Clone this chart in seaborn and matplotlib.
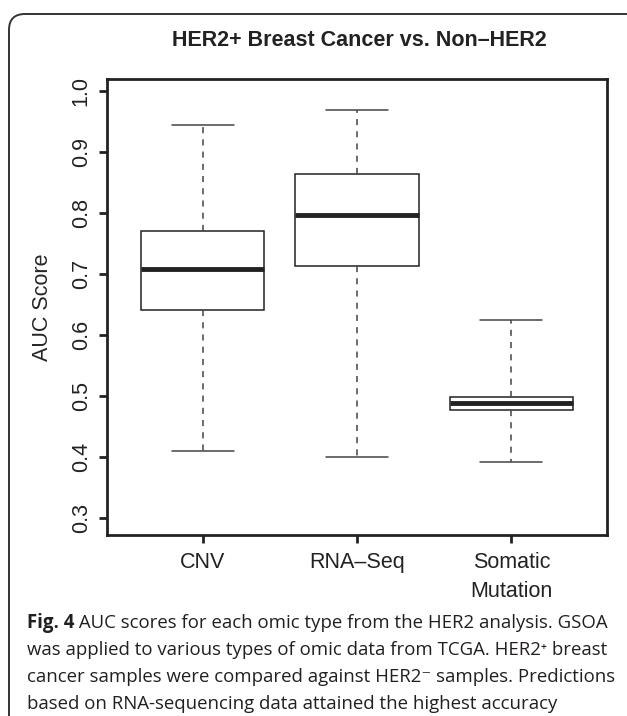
import matplotlib
matplotlib.use("Agg")
import matplotlib.pyplot as plt
import matplotlib.patches as mpatches
import pandas as pd
import seaborn as sns

# five-number summaries (min, Q1, median, Q3, max)
groups = ["CNV", "RNA-Seq", "Somatic Mutation"]
tick_labels = ["CNV", "RNA\u2013Seq", "Somatic\nMutation"]
cnv = [0.411, 0.641, 0.708, 0.771, 0.944]
rnaseq = [0.401, 0.713, 0.797, 0.864, 0.968]
somatic = [0.393, 0.478, 0.489, 0.499, 0.625]
yticks = [0.3, 0.4, 0.5, 0.6, 0.7, 0.8, 0.9, 1.0]

df = pd.DataFrame({
    "omic": [groups[0]] * len(cnv) + [groups[1]] * len(rnaseq) + [groups[2]] * len(somatic),
    "auc": cnv + rnaseq + somatic,
})

sns.set_style("white")
plt.rcParams["font.family"] = ["Liberation Sans", "DejaVu Sans"]
ink = "#222222"

fig = plt.figure(figsize=(6.27, 7.16), dpi=100)
ax = fig.add_axes([107 / 627, 1 - 535 / 716, 500 / 627, 456 / 716])

sns.boxplot(data=df, x="omic", y="auc", order=groups, ax=ax, whis=(0, 100),
            width=0.8, color="white", linecolor=ink, linewidth=1.1,
            medianprops=dict(linewidth=3.5, color=ink),
            whiskerprops=dict(linestyle=(0, (4, 4)), color="#444444"),
            capprops=dict(color="#444444"), showfliers=False)

ax.set_xlim(-0.62, 2.62)
ax.set_ylim(0.2727, 1.0195)
ax.set_yticks(yticks)
ax.set_yticklabels([f"{v:.1f}" for v in yticks], rotation=90, va="center", fontsize=15.5)
ax.set_xticks(range(len(groups)))
ax.set_xticklabels(tick_labels, fontsize=15.5, linespacing=1.5)
ax.set_xlabel("")
ax.set_ylabel("AUC Score", fontsize=15.5, labelpad=13)
ax.tick_params(axis="both", direction="out", length=6, width=2, color=ink,
               left=True, bottom=True, labelcolor=ink)
ax.tick_params(axis="y", pad=5)
ax.tick_params(axis="x", pad=6)
for s in ax.spines.values():
    s.set_visible(True)
    s.set_linewidth(2)
    s.set_color(ink)

fig.text(359 / 627, 1 - 40 / 716, "HER2+ Breast Cancer vs. Non\u2013HER2",
         ha="center", va="center", fontsize=15.5, fontweight="bold", color=ink)

# rounded frame around figure + caption
frame = mpatches.FancyBboxPatch((9, -60), 700, 716 - 14 + 60,
                                boxstyle="round,pad=0,rounding_size=16",
                                transform=None, fill=False, edgecolor="#333333",
                                linewidth=1.4)
fig.patches.append(frame)

cap_font = ["Open Sans", "DejaVu Sans"]
cap_size = 13.4
cap_color = "#231f20"
lines = [
    " AUC scores for each omic type from the HER2 analysis. GSOA",
    "was applied to various types of omic data from TCGA. HER2\u207a breast",
    "cancer samples were compared against HER2\u207b samples. Predictions",
    "based on RNA-sequencing data attained the highest accuracy",
]
baselines = [628, 655, 682, 709]
x0 = 27 / 627
renderer = fig.canvas.get_renderer()
bold = fig.text(x0, 1 - baselines[0] / 716, "Fig. 4", family=cap_font, fontsize=cap_size,
                fontweight="bold", va="baseline", color=cap_color)
bb = bold.get_window_extent(renderer=renderer)
fig.text(bb.x1 / 627, 1 - baselines[0] / 716, lines[0], family=cap_font, fontsize=cap_size,
         va="baseline", color=cap_color)
for txt, yb in zip(lines[1:], baselines[1:]):
    fig.text(x0, 1 - yb / 716, txt, family=cap_font, fontsize=cap_size,
             va="baseline", color=cap_color)

fig.savefig("out.png", dpi=100)
